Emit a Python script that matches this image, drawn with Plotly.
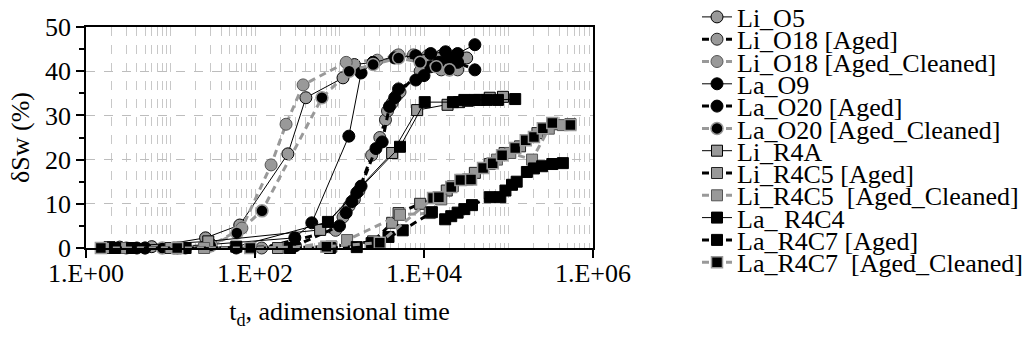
import plotly.graph_objects as go

# ---------------- data (t_d, dSw %) ----------------
names = ["Li_O5", "Li_O18 [Aged]", "Li_O18 [Aged_Cleaned]",
         "La_O9", "La_O20 [Aged]", "La_O20 [Aged_Cleaned]",
         "Li_R4A", "Li_R4C5 [Aged]", "Li_R4C5  [Aged_Cleaned]",
         "La_ R4C4", "La_R4C7 [Aged]", "La_R4C7  [Aged_Cleaned]"]

li_o5_t = [2.5, 6, 26, 66, 245, 400, 1100, 1500, 2500, 4800, 7500, 11000, 16000, 24000, 32000]
li_o5_s = [0.2, 0.3, 2.3, 5.2, 21.3, 34, 38.5, 41.5, 42, 43.5, 43.5, 43, 43.5, 43.5, 43]

li_o18a_t = [3, 11, 15, 120, 900, 1100, 1300, 1500, 1700, 2400, 3000, 3500, 3700, 4200, 4800, 5200, 9000, 12000, 16000, 20000, 25000]
li_o18a_s = [0, 0, 0, 0, 4, 7, 9.5, 11, 13, 21, 25, 29, 31, 32.8, 34.6, 35.3, 40, 42, 40.3, 40.3, 40.3]

li_o18c_t = [5, 13, 30, 70, 155, 233, 371, 1200, 2800, 5000, 7500, 11000, 16000, 22000]
li_o18c_s = [0, 0, 0.5, 4.5, 18.8, 28, 36.9, 42, 42.5, 43.7, 43.7, 43.5, 42, 42]

la_o9_t = [5, 30, 296, 470, 1290, 1800, 2500, 4500, 8000, 12000, 18000, 25000, 40000]
la_o9_s = [0, 0.8, 2.3, 5.7, 25.3, 39.6, 42, 43, 43.5, 44, 44.4, 44, 46]

la_o20a_t = [4, 12, 60, 300, 1000, 1200, 1400, 1600, 1800, 2700, 3200, 3900, 4500, 5000, 8000, 10000, 12000, 15000, 19000, 25000, 40000]
la_o20a_s = [0, 0, 0, 0.5, 5, 8, 10.5, 12.5, 14, 22.5, 24, 32, 34, 36, 38, 39, 41, 42, 43, 42, 40.3]

la_o20c_t = [8, 30, 61, 121, 620, 1300, 2500, 5000, 9000, 14000, 20000]
la_o20c_s = [0, 0.5, 3.4, 8.4, 34, 40, 41.5, 43, 42, 41, 40.3]

li_r4a_t = [1.9, 28, 590, 4200, 8300, 19000, 26000, 33000, 45000, 60000, 86000]
li_r4a_s = [0.2, 1.5, 4.1, 21.5, 31.2, 32.4, 33, 33.3, 33.5, 34, 34.2]

li_r4c5a_t = [2, 10, 187, 800, 2500, 4200, 5000, 9000, 12800, 18600, 27800, 40000, 60000, 90000, 137000, 220000, 330000, 540000]
li_r4c5a_s = [0, 0, 0, 0.3, 1.5, 5.7, 7.9, 10, 11.3, 13, 15.4, 17, 19, 21.5, 23, 26, 28, 28]

li_r4c5c_t = [3, 25, 250, 1230, 5200, 11700, 16000, 22000, 33000, 50000, 73000, 105000, 190000, 300000, 440000]
li_r4c5c_s = [0, 0, 0, 1.8, 7.5, 7.9, 11, 14, 15.5, 18.1, 20, 21.5, 20, 27, 27.8]

la_r4c4_t = [3.5, 15, 60, 730, 5200, 10200, 22000, 30000, 40000, 55000, 75000, 120000]
la_r4c4_s = [0, 0, 0.3, 5.9, 22.9, 33, 33, 33.5, 33.5, 33.5, 33.5, 33.7]

la_r4c7a_t = [2.2, 15, 260, 770, 1600, 2400, 3800, 5600, 12400, 17800, 21000, 25000, 30000, 37000, 60000, 80000, 92000, 110000, 125000, 165000, 200000, 250000, 330000, 440000]
la_r4c7a_s = [0, 0, 0, 0, 0.2, 1.1, 2.5, 4, 8.1, 6.5, 7.2, 8, 8.8, 9.7, 11.5, 11.5, 13, 14.3, 15, 17.2, 18, 18.5, 19, 19.2]

la_r4c7c_t = [1.5, 12, 88, 700, 3000, 12800, 15000, 21000, 27000, 36000, 50000, 65000, 84000, 120000, 160000, 200000, 255000, 330000, 540000]
la_r4c7c_s = [0, 0, 0, 0.3, 1.2, 11.3, 11.5, 13.8, 15.4, 15.5, 18.1, 19.2, 21, 22.6, 24.4, 25.1, 27.1, 28.3, 27.8]

xs = [li_o5_t, li_o18a_t, li_o18c_t, la_o9_t, la_o20a_t, la_o20c_t,
      li_r4a_t, li_r4c5a_t, li_r4c5c_t, la_r4c4_t, la_r4c7a_t, la_r4c7c_t]
ys = [li_o5_s, li_o18a_s, li_o18c_s, la_o9_s, la_o20a_s, la_o20c_s,
      li_r4a_s, li_r4c5a_s, li_r4c5c_s, la_r4c4_s, la_r4c7a_s, la_r4c7c_s]

x_tickvals = [1, 1e2, 1e4, 1e6]
x_ticktext = ["1.E+00", "1.E+02", "1.E+04", "1.E+06"]

# ---------------- styles ----------------
GRAY = "#999999"
BLK = "#000000"
DASH = "7px,5px"
styles = [
    # symbol, fill, edge, edge w, line color, dash, line w
    ("circle", GRAY, BLK, 1, BLK, "solid", 1),
    ("circle", GRAY, "#222222", 1, BLK, DASH, 3),
    ("circle", GRAY, "#555555", 1, GRAY, DASH, 3),
    ("circle", BLK, BLK, 1, BLK, "solid", 1),
    ("circle", BLK, BLK, 1, BLK, DASH, 3),
    ("circle", BLK, GRAY, 1.5, GRAY, DASH, 3),
    ("square", GRAY, BLK, 1, BLK, "solid", 1),
    ("square", GRAY, "#222222", 1, BLK, DASH, 3),
    ("square", GRAY, "#555555", 1, GRAY, DASH, 3),
    ("square", BLK, BLK, 1, BLK, "solid", 1),
    ("square", BLK, BLK, 1, BLK, DASH, 3),
    ("square", BLK, GRAY, 1.5, GRAY, DASH, 3),
]

FONT = "Liberation Serif"
FS = 26
W, H = 1034, 351
leg_x = 697
leg_y0 = 17
leg_dy = 22.3

fig = go.Figure()
layout_legends = {}
for i, (nm, x, y, st) in enumerate(zip(names, xs, ys, styles)):
    sym, fill, edge, ew, lc, dash, lw = st
    size = 12 if sym == "circle" else 11
    lname = "legend" if i == 0 else f"legend{i+1}"
    fig.add_trace(go.Scatter(
        x=x, y=y, name=nm, mode="lines+markers",
        line=dict(color=lc, dash=dash, width=lw),
        marker=dict(symbol=sym, size=size, color=fill, line=dict(color=edge, width=ew)),
        cliponaxis=False, legend=lname,
    ))
    layout_legends[lname] = dict(
        xref="container", yref="container",
        x=leg_x / W, y=1 - (leg_y0 + i * leg_dy) / H,
        xanchor="left", yanchor="middle",
        bgcolor="rgba(0,0,0,0)", borderwidth=0,
        font=dict(family=FONT, size=FS, color="black"),
        itemwidth=30,
    )

fig.update_layout(
    width=W, height=H,
    margin=dict(l=86, r=W - 593, t=27, b=H - 248, autoexpand=False),
    paper_bgcolor="white", plot_bgcolor="white",
    font=dict(family=FONT, size=FS, color="black"),
    showlegend=True,
    **layout_legends,
)

fig.update_xaxes(
    type="log", range=[0, 6],
    tickvals=x_tickvals, ticktext=x_ticktext,
    ticks="outside", ticklen=8, tickcolor="black", tickwidth=1.5,
    ticklabelstandoff=-7,
    showline=True, linecolor="black", linewidth=1.5, mirror=True,
    showgrid=False, zeroline=False,
    minor=dict(dtick="D1", showgrid=True, griddash="dash",
               gridcolor="#c8c8c8", gridwidth=1, ticks=""),
    title=dict(text="t<sub>d</sub>, adimensional time", standoff=15,
               font=dict(family=FONT, size=FS)),
    tickfont=dict(family=FONT, size=FS),
    automargin=False,
)
fig.update_yaxes(
    range=[0, 50], dtick=10,
    ticks="outside", ticklen=8, tickcolor="black", tickwidth=1.5,
    showline=True, linecolor="black", linewidth=1.5, mirror=True,
    showgrid=True, griddash="dash", gridcolor="#bdbdbd", gridwidth=1,
    zeroline=False,
    minor=dict(dtick=5, ticks="outside", ticklen=5, tickcolor="black", showgrid=False),
    title=dict(text="δSw (%)", standoff=8, font=dict(family=FONT, size=FS)),
    tickfont=dict(family=FONT, size=FS),
    automargin=False,
)

fig.write_html("out.html")
